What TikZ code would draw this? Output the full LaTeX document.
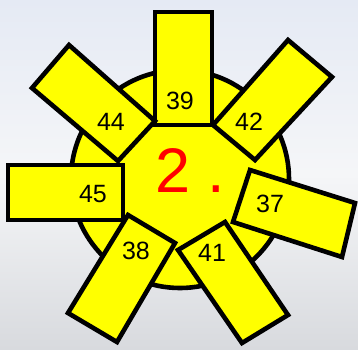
\documentclass[tikz,border=0pt]{standalone}
\usepackage{fontspec}
\setmainfont{Liberation Sans}
\definecolor{bgtop}{RGB}{229,234,244}
\definecolor{bgmid}{RGB}{245,246,248}
\definecolor{bgbot}{RGB}{216,218,222}
\definecolor{rayfill}{RGB}{255,255,0}
\tikzset{
  ray/.style={draw=black, line width=4.6pt, fill=rayfill},
  num/.style={font=\fontsize{25}{25}\selectfont, inner sep=0pt}
}
\begin{document}
\begin{tikzpicture}[x=1pt, y=-1pt]
        \useasboundingbox (0, 0) rectangle (358, 349);
        \shade[top color=bgtop, bottom color=bgbot, middle color=bgmid] (0, 0) rectangle (358, 349);

        \draw[ray] (180, 179) circle (109);

        \draw[ray] (155, 12) -- (212, 12) -- (212, 125) -- (155, 125) -- cycle;
        \draw[ray] (69, 45) -- (155, 121) -- (118, 161) -- (32, 88) -- cycle;
        \draw[ray] (288, 40) -- (332, 77) -- (255, 160) -- (213, 125) -- cycle;
        \draw[ray] (8, 165) -- (123, 165) -- (123, 220) -- (8, 220) -- cycle;
        \draw[ray] (250, 170) -- (355, 203) -- (342, 257) -- (233, 222) -- cycle;
        \draw[ray] (128, 215) -- (175, 243) -- (117, 342) -- (68, 313) -- cycle;
        \draw[ray] (225, 222) -- (288, 315) -- (242, 343) -- (178, 250) -- cycle;

        \node[num] (n39) at (180, 101) {39};
        \node[num] (n44) at (111, 122) {44};
        \node[num] (n42) at (249, 122) {42};
        \node[num] (n45) at (93, 194) {45};
        \node[num] (n37) at (270, 204) {37};
        \node[num] (n38) at (136, 251) {38};
        \node[num] (n41) at (212, 253) {41};

        \node[text=red, font=\fontsize{63}{63}\selectfont, inner sep=0pt, anchor=base west] (title) at (155, 192) {2 .};
    \end{tikzpicture}
\end{document}
